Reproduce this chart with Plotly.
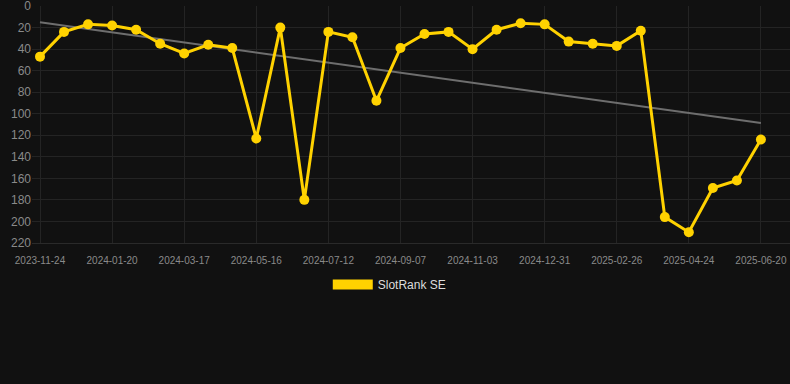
import numpy as np
import plotly.graph_objects as go

# data
point_index = list(range(31))
rank = [47, 24, 17, 18, 22, 35, 44, 36, 39, 123, 20, 180, 24, 29, 88,
        39, 26, 24, 40, 22, 16, 17, 33, 35, 37, 23, 196, 210, 169, 162, 124]
tick_labels = ["2023-11-24", "2024-01-20", "2024-03-17", "2024-05-16", "2024-07-12",
               "2024-09-07", "2024-11-03", "2024-12-31", "2025-02-26", "2025-04-24",
               "2025-06-20"]
tick_positions = point_index[::3]
y_ticks = list(range(0, 221, 20))
series_name = "SlotRank SE"

GOLD = "#FFD200"
BG = "#111111"
GRID = "#242424"
FONT = "Liberation Sans, Arial, sans-serif"

# linear trend
coef = np.polyfit(point_index, rank, 1)
trend = np.polyval(coef, point_index)

fig = go.Figure()
fig.add_trace(go.Scatter(
    x=point_index, y=trend, mode="lines",
    line=dict(color="#6e6e6e", width=2),
    showlegend=False, hoverinfo="skip"))
fig.add_trace(go.Scatter(
    x=point_index, y=rank, mode="lines+markers",
    line=dict(color=GOLD, width=3),
    marker=dict(color=GOLD, size=10),
    name=series_name, legendgroup="s", showlegend=False))
fig.add_trace(go.Scatter(
    x=[None], y=[None], mode="lines",
    line=dict(color=GOLD, width=12),
    name=series_name, legendgroup="s", showlegend=True))

fig.update_layout(
    width=790, height=384,
    paper_bgcolor=BG, plot_bgcolor=BG,
    margin=dict(l=32, r=0, t=6, b=141),
    font=dict(family=FONT, color="#8a8a8a"),
    showlegend=True,
    legend=dict(orientation="h", x=0.472, xanchor="center", y=-0.175, yanchor="middle",
                font=dict(size=12, color="#dddddd", family=FONT),
                bgcolor="rgba(0,0,0,0)", itemwidth=40),
)
fig.update_xaxes(
    range=[-0.333, 31.21],
    tickmode="array", tickvals=tick_positions, ticktext=tick_labels,
    tickfont=dict(size=10, color="#8a8a8a"),
    showgrid=True, gridcolor=GRID, gridwidth=1,
    zeroline=False, showline=True, linecolor="#2a2a2a", linewidth=1,
    ticks="", ticklabelstandoff=8, ticklabeloverflow="allow",
)
fig.update_yaxes(
    range=[220.05, -0.05],
    tickmode="array", tickvals=y_ticks,
    tickfont=dict(size=12, color="#8a8a8a"),
    showgrid=True, gridcolor=GRID, gridwidth=1,
    zeroline=False, showline=False, ticks="", ticklabeloverflow="allow",
)

fig.write_html("out.html",
               config={"displayModeBar": False},
               post_script="document.body.style.margin='0';document.body.style.background='#111111';")
